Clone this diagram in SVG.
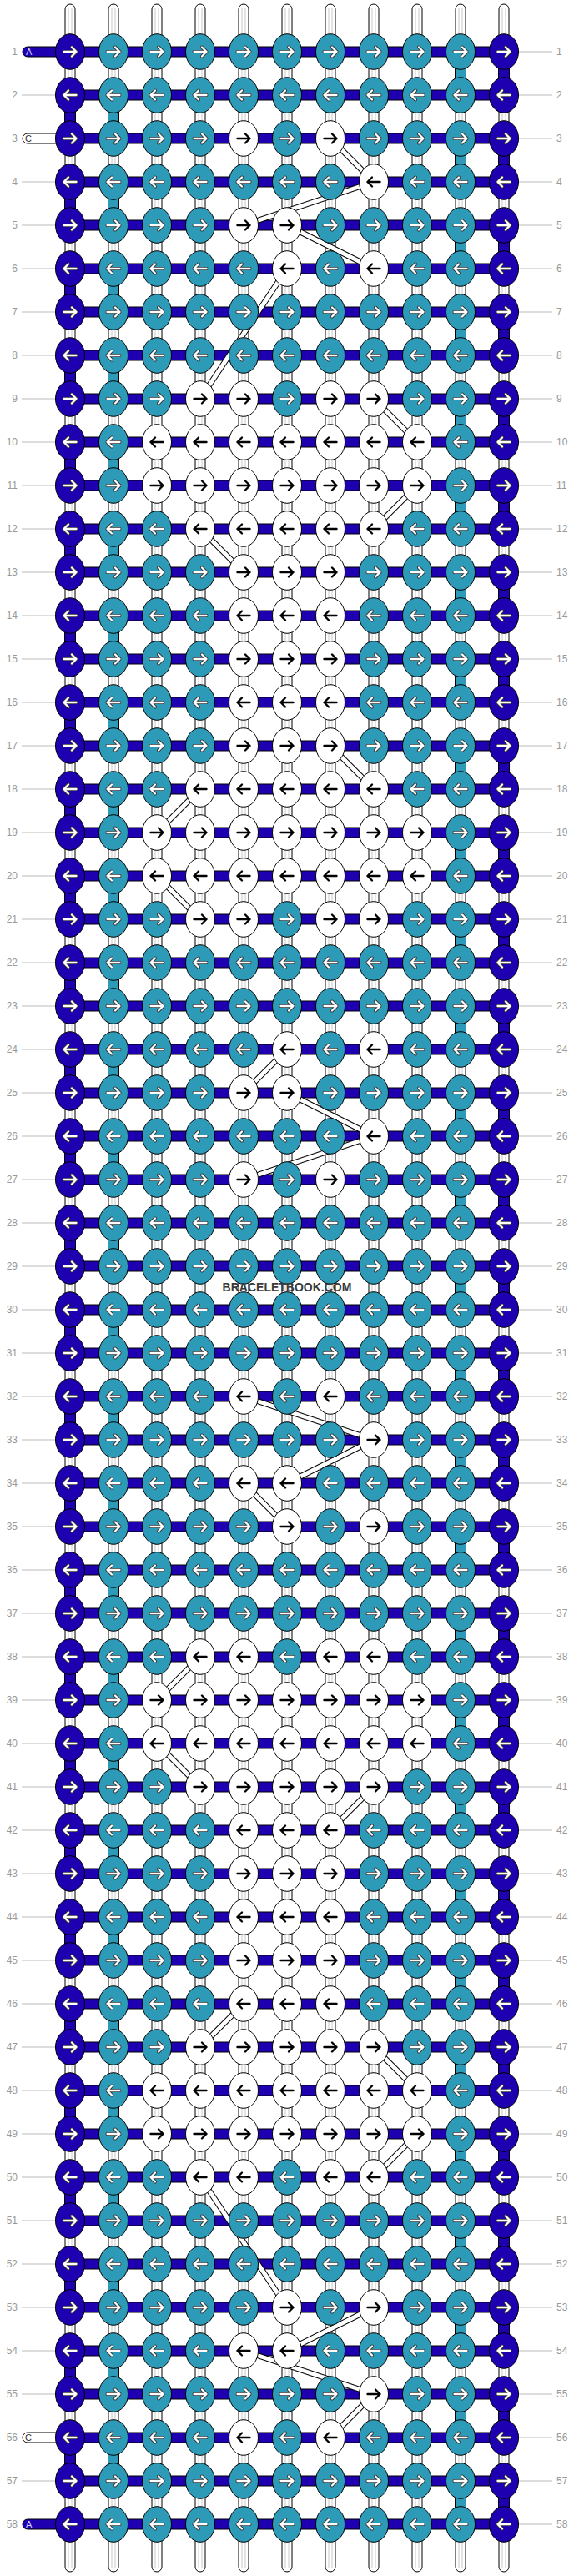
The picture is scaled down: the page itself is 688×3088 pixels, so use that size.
<svg xmlns="http://www.w3.org/2000/svg" xmlns:xlink="http://www.w3.org/1999/xlink" width="688" height="3088" viewBox="0 0 688 3088">
<style>
.base{fill:#fff;stroke:#000;stroke-width:1}
.gl{fill:none;stroke:#c8c8c8;stroke-width:1}
.bar{fill:#1e00b0;stroke:#000;stroke-width:1}
.t{fill:#2d9bb8;stroke:#000;stroke-width:1}
.w{fill:#fff;stroke:#000;stroke-width:1}
.b{fill:#1e00b0;stroke:#000;stroke-width:1}
.ao{fill:none;stroke:#333;stroke-width:4;stroke-linecap:round;stroke-linejoin:round}
.aw{fill:none;stroke:#fff;stroke-width:2.3;stroke-linecap:round;stroke-linejoin:round}
.ak{fill:none;stroke:#000;stroke-width:2.4;stroke-linecap:round;stroke-linejoin:round}
.lbl{font-family:"Liberation Sans",Arial,sans-serif;font-size:12px;fill:#999}
.tk{fill:none;stroke:#000;stroke-width:7}
.tw{fill:none;stroke:#fff;stroke-width:5}
</style>
<defs>
<path id="ar" d="M-7.5,0H7.5M2,-5.5L7.5,0L2,5.5"/>
<path id="al" d="M7.5,0H-7.5M-2,-5.5L-7.5,0L-2,5.5"/>
<g id="br"><ellipse class="b" rx="17.5" ry="21.3"/><use href="#ar" class="ao"/><use href="#ar" class="aw"/></g>
<g id="bl"><ellipse class="b" rx="17.5" ry="21.3"/><use href="#al" class="ao"/><use href="#al" class="aw"/></g>
<g id="tr"><ellipse class="t" rx="17.5" ry="21.3"/><use href="#ar" class="ao"/><use href="#ar" class="aw"/></g>
<g id="tl"><ellipse class="t" rx="17.5" ry="21.3"/><use href="#al" class="ao"/><use href="#al" class="aw"/></g>
<g id="wr"><ellipse class="w" rx="17.5" ry="21.3"/><use href="#ar" class="ak"/></g>
<g id="wl"><ellipse class="w" rx="17.5" ry="21.3"/><use href="#al" class="ak"/></g>
<rect id="hb" class="bar" x="84" y="-6" width="520" height="12"/>
</defs>
<rect width="688" height="3088" fill="#fff"/>
<g id="strands">
<rect class="base" x="78" y="5" width="12" height="3078" rx="6"/>
<rect class="base" x="130" y="5" width="12" height="3078" rx="6"/>
<rect class="base" x="182" y="5" width="12" height="3078" rx="6"/>
<rect class="base" x="234" y="5" width="12" height="3078" rx="6"/>
<rect class="base" x="286" y="5" width="12" height="3078" rx="6"/>
<rect class="base" x="338" y="5" width="12" height="3078" rx="6"/>
<rect class="base" x="390" y="5" width="12" height="3078" rx="6"/>
<rect class="base" x="442" y="5" width="12" height="3078" rx="6"/>
<rect class="base" x="494" y="5" width="12" height="3078" rx="6"/>
<rect class="base" x="546" y="5" width="12" height="3078" rx="6"/>
<rect class="base" x="598" y="5" width="12" height="3078" rx="6"/>
<path class="gl" d="M82,9V3079M86,9V3079M134,9V3079M138,9V3079M186,9V3079M190,9V3079M238,9V3079M242,9V3079M290,9V3079M294,9V3079M342,9V3079M346,9V3079M394,9V3079M398,9V3079M446,9V3079M450,9V3079M498,9V3079M502,9V3079M550,9V3079M554,9V3079M602,9V3079M606,9V3079"/>
</g>
<g id="bars">
<rect class="bar" x="27" y="56" width="62" height="12" rx="6"/>
<rect class="base" x="27" y="160" width="62" height="12" rx="6"/>
<rect class="base" x="27" y="2916" width="62" height="12" rx="6"/>
<rect class="bar" x="27" y="3020" width="62" height="12" rx="6"/>
<use href="#hb" y="62"/><use href="#hb" y="114"/><use href="#hb" y="166"/><use href="#hb" y="218"/><use href="#hb" y="270"/><use href="#hb" y="322"/><use href="#hb" y="374"/><use href="#hb" y="426"/><use href="#hb" y="478"/><use href="#hb" y="530"/>
<use href="#hb" y="582"/><use href="#hb" y="634"/><use href="#hb" y="686"/><use href="#hb" y="738"/><use href="#hb" y="790"/><use href="#hb" y="842"/><use href="#hb" y="894"/><use href="#hb" y="946"/><use href="#hb" y="998"/><use href="#hb" y="1050"/>
<use href="#hb" y="1102"/><use href="#hb" y="1154"/><use href="#hb" y="1206"/><use href="#hb" y="1258"/><use href="#hb" y="1310"/><use href="#hb" y="1362"/><use href="#hb" y="1414"/><use href="#hb" y="1466"/><use href="#hb" y="1518"/><use href="#hb" y="1570"/>
<use href="#hb" y="1622"/><use href="#hb" y="1674"/><use href="#hb" y="1726"/><use href="#hb" y="1778"/><use href="#hb" y="1830"/><use href="#hb" y="1882"/><use href="#hb" y="1934"/><use href="#hb" y="1986"/><use href="#hb" y="2038"/><use href="#hb" y="2090"/>
<use href="#hb" y="2142"/><use href="#hb" y="2194"/><use href="#hb" y="2246"/><use href="#hb" y="2298"/><use href="#hb" y="2350"/><use href="#hb" y="2402"/><use href="#hb" y="2454"/><use href="#hb" y="2506"/><use href="#hb" y="2558"/><use href="#hb" y="2610"/>
<use href="#hb" y="2662"/><use href="#hb" y="2714"/><use href="#hb" y="2766"/><use href="#hb" y="2818"/><use href="#hb" y="2870"/><use href="#hb" y="2922"/><use href="#hb" y="2974"/><use href="#hb" y="3026"/>
</g>
<g id="connectors">
<line x1="84" y1="132" x2="84" y2="2960" stroke="#000" stroke-width="14" stroke-dasharray="16 88"/>
<line x1="84" y1="132" x2="84" y2="2960" stroke="#1e00b0" stroke-width="12" stroke-dasharray="16 88"/>
<line x1="604" y1="80" x2="604" y2="3010" stroke="#000" stroke-width="14" stroke-dasharray="16 88"/>
<line x1="604" y1="80" x2="604" y2="3010" stroke="#1e00b0" stroke-width="12" stroke-dasharray="16 88"/>
<line x1="136" y1="132" x2="136" y2="2960" stroke="#000" stroke-width="14" stroke-dasharray="16 88"/>
<line x1="136" y1="132" x2="136" y2="2960" stroke="#2d9bb8" stroke-width="12" stroke-dasharray="16 88"/>
<line x1="552" y1="80" x2="552" y2="3010" stroke="#000" stroke-width="14" stroke-dasharray="16 88"/>
<line x1="552" y1="80" x2="552" y2="3010" stroke="#2d9bb8" stroke-width="12" stroke-dasharray="16 88"/>
<path class="tk" d="M396,166L448,218M448,218L292,270M344,270L448,322M344,322L240,478M448,478L500,530M500,582L448,634M240,634L292,686M396,894L448,946M240,946L188,998M188,1050L240,1102M344,1258L292,1310M344,1310L448,1362M448,1362L292,1414M292,1674L448,1726M448,1726L344,1778M292,1778L344,1830M240,1986L188,2038M188,2090L240,2142M448,2142L396,2194M292,2402L240,2454M448,2454L500,2506M500,2558L448,2610M240,2610L344,2766M448,2766L344,2818M292,2818L448,2870M448,2870L396,2922"/>
<path class="tw" d="M396,166L448,218M448,218L292,270M344,270L448,322M344,322L240,478M448,478L500,530M500,582L448,634M240,634L292,686M396,894L448,946M240,946L188,998M188,1050L240,1102M344,1258L292,1310M344,1310L448,1362M448,1362L292,1414M292,1674L448,1726M448,1726L344,1778M292,1778L344,1830M240,1986L188,2038M188,2090L240,2142M448,2142L396,2194M292,2402L240,2454M448,2454L500,2506M500,2558L448,2610M240,2610L344,2766M448,2766L344,2818M292,2818L448,2870M448,2870L396,2922"/>
</g>
<g id="labels">
<path fill="none" stroke="#bbb" stroke-width="1" d="M26,114H67M26,218H67M26,270H67M26,322H67M26,374H67M26,426H67M26,478H67M26,530H67M26,582H67M26,634H67M26,686H67M26,738H67M26,790H67M26,842H67M26,894H67M26,946H67M26,998H67M26,1050H67M26,1102H67M26,1154H67M26,1206H67M26,1258H67M26,1310H67M26,1362H67M26,1414H67M26,1466H67M26,1518H67M26,1570H67M26,1622H67M26,1674H67M26,1726H67M26,1778H67M26,1830H67M26,1882H67M26,1934H67M26,1986H67M26,2038H67M26,2090H67M26,2142H67M26,2194H67M26,2246H67M26,2298H67M26,2350H67M26,2402H67M26,2454H67M26,2506H67M26,2558H67M26,2610H67M26,2662H67M26,2714H67M26,2766H67M26,2818H67M26,2870H67M26,2974H67
M621,62H662M621,114H662M621,166H662M621,218H662M621,270H662M621,322H662M621,374H662M621,426H662M621,478H662M621,530H662M621,582H662M621,634H662M621,686H662M621,738H662M621,790H662M621,842H662M621,894H662M621,946H662M621,998H662M621,1050H662M621,1102H662M621,1154H662M621,1206H662M621,1258H662M621,1310H662M621,1362H662M621,1414H662M621,1466H662M621,1518H662M621,1570H662M621,1622H662M621,1674H662M621,1726H662M621,1778H662M621,1830H662M621,1882H662M621,1934H662M621,1986H662M621,2038H662M621,2090H662M621,2142H662M621,2194H662M621,2246H662M621,2298H662M621,2350H662M621,2402H662M621,2454H662M621,2506H662M621,2558H662M621,2610H662M621,2662H662M621,2714H662M621,2766H662M621,2818H662M621,2870H662M621,2922H662M621,2974H662M621,3026H662"/>
<text x="31" y="66" font-family="Liberation Sans,Arial,sans-serif" font-size="11" fill="#d0d0ff">A</text>
<text x="30" y="170" font-family="Liberation Sans,Arial,sans-serif" font-size="11" fill="#333">C</text>
<text x="30" y="2926" font-family="Liberation Sans,Arial,sans-serif" font-size="11" fill="#333">C</text>
<text x="31" y="3030" font-family="Liberation Sans,Arial,sans-serif" font-size="11" fill="#d0d0ff">A</text>
<g class="lbl" text-anchor="end">
<text x="21" y="66">1</text><text x="21" y="118">2</text><text x="21" y="170">3</text><text x="21" y="222">4</text><text x="21" y="274">5</text><text x="21" y="326">6</text><text x="21" y="378">7</text><text x="21" y="430">8</text><text x="21" y="482">9</text><text x="21" y="534">10</text>
<text x="21" y="586">11</text><text x="21" y="638">12</text><text x="21" y="690">13</text><text x="21" y="742">14</text><text x="21" y="794">15</text><text x="21" y="846">16</text><text x="21" y="898">17</text><text x="21" y="950">18</text><text x="21" y="1002">19</text><text x="21" y="1054">20</text>
<text x="21" y="1106">21</text><text x="21" y="1158">22</text><text x="21" y="1210">23</text><text x="21" y="1262">24</text><text x="21" y="1314">25</text><text x="21" y="1366">26</text><text x="21" y="1418">27</text><text x="21" y="1470">28</text><text x="21" y="1522">29</text><text x="21" y="1574">30</text>
<text x="21" y="1626">31</text><text x="21" y="1678">32</text><text x="21" y="1730">33</text><text x="21" y="1782">34</text><text x="21" y="1834">35</text><text x="21" y="1886">36</text><text x="21" y="1938">37</text><text x="21" y="1990">38</text><text x="21" y="2042">39</text><text x="21" y="2094">40</text>
<text x="21" y="2146">41</text><text x="21" y="2198">42</text><text x="21" y="2250">43</text><text x="21" y="2302">44</text><text x="21" y="2354">45</text><text x="21" y="2406">46</text><text x="21" y="2458">47</text><text x="21" y="2510">48</text><text x="21" y="2562">49</text><text x="21" y="2614">50</text>
<text x="21" y="2666">51</text><text x="21" y="2718">52</text><text x="21" y="2770">53</text><text x="21" y="2822">54</text><text x="21" y="2874">55</text><text x="21" y="2926">56</text><text x="21" y="2978">57</text><text x="21" y="3030">58</text>
</g>
<g class="lbl">
<text x="667" y="66">1</text><text x="667" y="118">2</text><text x="667" y="170">3</text><text x="667" y="222">4</text><text x="667" y="274">5</text><text x="667" y="326">6</text><text x="667" y="378">7</text><text x="667" y="430">8</text><text x="667" y="482">9</text><text x="667" y="534">10</text>
<text x="667" y="586">11</text><text x="667" y="638">12</text><text x="667" y="690">13</text><text x="667" y="742">14</text><text x="667" y="794">15</text><text x="667" y="846">16</text><text x="667" y="898">17</text><text x="667" y="950">18</text><text x="667" y="1002">19</text><text x="667" y="1054">20</text>
<text x="667" y="1106">21</text><text x="667" y="1158">22</text><text x="667" y="1210">23</text><text x="667" y="1262">24</text><text x="667" y="1314">25</text><text x="667" y="1366">26</text><text x="667" y="1418">27</text><text x="667" y="1470">28</text><text x="667" y="1522">29</text><text x="667" y="1574">30</text>
<text x="667" y="1626">31</text><text x="667" y="1678">32</text><text x="667" y="1730">33</text><text x="667" y="1782">34</text><text x="667" y="1834">35</text><text x="667" y="1886">36</text><text x="667" y="1938">37</text><text x="667" y="1990">38</text><text x="667" y="2042">39</text><text x="667" y="2094">40</text>
<text x="667" y="2146">41</text><text x="667" y="2198">42</text><text x="667" y="2250">43</text><text x="667" y="2302">44</text><text x="667" y="2354">45</text><text x="667" y="2406">46</text><text x="667" y="2458">47</text><text x="667" y="2510">48</text><text x="667" y="2562">49</text><text x="667" y="2614">50</text>
<text x="667" y="2666">51</text><text x="667" y="2718">52</text><text x="667" y="2770">53</text><text x="667" y="2822">54</text><text x="667" y="2874">55</text><text x="667" y="2926">56</text><text x="667" y="2978">57</text><text x="667" y="3030">58</text>
</g>
</g>
<g id="nodes">
<g id="row1" transform="translate(0,62)"><g id="n1-0"><use href="#br" x="84"/></g><g id="n1-1"><use href="#tr" x="136"/></g><g id="n1-2"><use href="#tr" x="188"/></g><g id="n1-3"><use href="#tr" x="240"/></g><g id="n1-4"><use href="#tr" x="292"/></g><g id="n1-5"><use href="#tr" x="344"/></g><g id="n1-6"><use href="#tr" x="396"/></g><g id="n1-7"><use href="#tr" x="448"/></g><g id="n1-8"><use href="#tr" x="500"/></g><g id="n1-9"><use href="#tr" x="552"/></g><g id="n1-10"><use href="#br" x="604"/></g></g>
<g id="row2" transform="translate(0,114)"><g id="n2-0"><use href="#bl" x="84"/></g><g id="n2-1"><use href="#tl" x="136"/></g><g id="n2-2"><use href="#tl" x="188"/></g><g id="n2-3"><use href="#tl" x="240"/></g><g id="n2-4"><use href="#tl" x="292"/></g><g id="n2-5"><use href="#tl" x="344"/></g><g id="n2-6"><use href="#tl" x="396"/></g><g id="n2-7"><use href="#tl" x="448"/></g><g id="n2-8"><use href="#tl" x="500"/></g><g id="n2-9"><use href="#tl" x="552"/></g><g id="n2-10"><use href="#bl" x="604"/></g></g>
<g id="row3" transform="translate(0,166)"><g id="n3-0"><use href="#br" x="84"/></g><g id="n3-1"><use href="#tr" x="136"/></g><g id="n3-2"><use href="#tr" x="188"/></g><g id="n3-3"><use href="#tr" x="240"/></g><g id="n3-4"><use href="#wr" x="292"/></g><g id="n3-5"><use href="#tr" x="344"/></g><g id="n3-6"><use href="#wr" x="396"/></g><g id="n3-7"><use href="#tr" x="448"/></g><g id="n3-8"><use href="#tr" x="500"/></g><g id="n3-9"><use href="#tr" x="552"/></g><g id="n3-10"><use href="#br" x="604"/></g></g>
<g id="row4" transform="translate(0,218)"><g id="n4-0"><use href="#bl" x="84"/></g><g id="n4-1"><use href="#tl" x="136"/></g><g id="n4-2"><use href="#tl" x="188"/></g><g id="n4-3"><use href="#tl" x="240"/></g><g id="n4-4"><use href="#tl" x="292"/></g><g id="n4-5"><use href="#tl" x="344"/></g><g id="n4-6"><use href="#tl" x="396"/></g><g id="n4-7"><use href="#wl" x="448"/></g><g id="n4-8"><use href="#tl" x="500"/></g><g id="n4-9"><use href="#tl" x="552"/></g><g id="n4-10"><use href="#bl" x="604"/></g></g>
<g id="row5" transform="translate(0,270)"><g id="n5-0"><use href="#br" x="84"/></g><g id="n5-1"><use href="#tr" x="136"/></g><g id="n5-2"><use href="#tr" x="188"/></g><g id="n5-3"><use href="#tr" x="240"/></g><g id="n5-4"><use href="#wr" x="292"/></g><g id="n5-5"><use href="#wr" x="344"/></g><g id="n5-6"><use href="#tr" x="396"/></g><g id="n5-7"><use href="#tr" x="448"/></g><g id="n5-8"><use href="#tr" x="500"/></g><g id="n5-9"><use href="#tr" x="552"/></g><g id="n5-10"><use href="#br" x="604"/></g></g>
<g id="row6" transform="translate(0,322)"><g id="n6-0"><use href="#bl" x="84"/></g><g id="n6-1"><use href="#tl" x="136"/></g><g id="n6-2"><use href="#tl" x="188"/></g><g id="n6-3"><use href="#tl" x="240"/></g><g id="n6-4"><use href="#tl" x="292"/></g><g id="n6-5"><use href="#wl" x="344"/></g><g id="n6-6"><use href="#tl" x="396"/></g><g id="n6-7"><use href="#wl" x="448"/></g><g id="n6-8"><use href="#tl" x="500"/></g><g id="n6-9"><use href="#tl" x="552"/></g><g id="n6-10"><use href="#bl" x="604"/></g></g>
<g id="row7" transform="translate(0,374)"><g id="n7-0"><use href="#br" x="84"/></g><g id="n7-1"><use href="#tr" x="136"/></g><g id="n7-2"><use href="#tr" x="188"/></g><g id="n7-3"><use href="#tr" x="240"/></g><g id="n7-4"><use href="#tr" x="292"/></g><g id="n7-5"><use href="#tr" x="344"/></g><g id="n7-6"><use href="#tr" x="396"/></g><g id="n7-7"><use href="#tr" x="448"/></g><g id="n7-8"><use href="#tr" x="500"/></g><g id="n7-9"><use href="#tr" x="552"/></g><g id="n7-10"><use href="#br" x="604"/></g></g>
<g id="row8" transform="translate(0,426)"><g id="n8-0"><use href="#bl" x="84"/></g><g id="n8-1"><use href="#tl" x="136"/></g><g id="n8-2"><use href="#tl" x="188"/></g><g id="n8-3"><use href="#tl" x="240"/></g><g id="n8-4"><use href="#tl" x="292"/></g><g id="n8-5"><use href="#tl" x="344"/></g><g id="n8-6"><use href="#tl" x="396"/></g><g id="n8-7"><use href="#tl" x="448"/></g><g id="n8-8"><use href="#tl" x="500"/></g><g id="n8-9"><use href="#tl" x="552"/></g><g id="n8-10"><use href="#bl" x="604"/></g></g>
<g id="row9" transform="translate(0,478)"><g id="n9-0"><use href="#br" x="84"/></g><g id="n9-1"><use href="#tr" x="136"/></g><g id="n9-2"><use href="#tr" x="188"/></g><g id="n9-3"><use href="#wr" x="240"/></g><g id="n9-4"><use href="#wr" x="292"/></g><g id="n9-5"><use href="#tr" x="344"/></g><g id="n9-6"><use href="#wr" x="396"/></g><g id="n9-7"><use href="#wr" x="448"/></g><g id="n9-8"><use href="#tr" x="500"/></g><g id="n9-9"><use href="#tr" x="552"/></g><g id="n9-10"><use href="#br" x="604"/></g></g>
<g id="row10" transform="translate(0,530)"><g id="n10-0"><use href="#bl" x="84"/></g><g id="n10-1"><use href="#tl" x="136"/></g><g id="n10-2"><use href="#wl" x="188"/></g><g id="n10-3"><use href="#wl" x="240"/></g><g id="n10-4"><use href="#wl" x="292"/></g><g id="n10-5"><use href="#wl" x="344"/></g><g id="n10-6"><use href="#wl" x="396"/></g><g id="n10-7"><use href="#wl" x="448"/></g><g id="n10-8"><use href="#wl" x="500"/></g><g id="n10-9"><use href="#tl" x="552"/></g><g id="n10-10"><use href="#bl" x="604"/></g></g>
<g id="row11" transform="translate(0,582)"><g id="n11-0"><use href="#br" x="84"/></g><g id="n11-1"><use href="#tr" x="136"/></g><g id="n11-2"><use href="#wr" x="188"/></g><g id="n11-3"><use href="#wr" x="240"/></g><g id="n11-4"><use href="#wr" x="292"/></g><g id="n11-5"><use href="#wr" x="344"/></g><g id="n11-6"><use href="#wr" x="396"/></g><g id="n11-7"><use href="#wr" x="448"/></g><g id="n11-8"><use href="#wr" x="500"/></g><g id="n11-9"><use href="#tr" x="552"/></g><g id="n11-10"><use href="#br" x="604"/></g></g>
<g id="row12" transform="translate(0,634)"><g id="n12-0"><use href="#bl" x="84"/></g><g id="n12-1"><use href="#tl" x="136"/></g><g id="n12-2"><use href="#tl" x="188"/></g><g id="n12-3"><use href="#wl" x="240"/></g><g id="n12-4"><use href="#wl" x="292"/></g><g id="n12-5"><use href="#wl" x="344"/></g><g id="n12-6"><use href="#wl" x="396"/></g><g id="n12-7"><use href="#wl" x="448"/></g><g id="n12-8"><use href="#tl" x="500"/></g><g id="n12-9"><use href="#tl" x="552"/></g><g id="n12-10"><use href="#bl" x="604"/></g></g>
<g id="row13" transform="translate(0,686)"><g id="n13-0"><use href="#br" x="84"/></g><g id="n13-1"><use href="#tr" x="136"/></g><g id="n13-2"><use href="#tr" x="188"/></g><g id="n13-3"><use href="#tr" x="240"/></g><g id="n13-4"><use href="#wr" x="292"/></g><g id="n13-5"><use href="#wr" x="344"/></g><g id="n13-6"><use href="#wr" x="396"/></g><g id="n13-7"><use href="#tr" x="448"/></g><g id="n13-8"><use href="#tr" x="500"/></g><g id="n13-9"><use href="#tr" x="552"/></g><g id="n13-10"><use href="#br" x="604"/></g></g>
<g id="row14" transform="translate(0,738)"><g id="n14-0"><use href="#bl" x="84"/></g><g id="n14-1"><use href="#tl" x="136"/></g><g id="n14-2"><use href="#tl" x="188"/></g><g id="n14-3"><use href="#tl" x="240"/></g><g id="n14-4"><use href="#wl" x="292"/></g><g id="n14-5"><use href="#wl" x="344"/></g><g id="n14-6"><use href="#wl" x="396"/></g><g id="n14-7"><use href="#tl" x="448"/></g><g id="n14-8"><use href="#tl" x="500"/></g><g id="n14-9"><use href="#tl" x="552"/></g><g id="n14-10"><use href="#bl" x="604"/></g></g>
<g id="row15" transform="translate(0,790)"><g id="n15-0"><use href="#br" x="84"/></g><g id="n15-1"><use href="#tr" x="136"/></g><g id="n15-2"><use href="#tr" x="188"/></g><g id="n15-3"><use href="#tr" x="240"/></g><g id="n15-4"><use href="#wr" x="292"/></g><g id="n15-5"><use href="#wr" x="344"/></g><g id="n15-6"><use href="#wr" x="396"/></g><g id="n15-7"><use href="#tr" x="448"/></g><g id="n15-8"><use href="#tr" x="500"/></g><g id="n15-9"><use href="#tr" x="552"/></g><g id="n15-10"><use href="#br" x="604"/></g></g>
<g id="row16" transform="translate(0,842)"><g id="n16-0"><use href="#bl" x="84"/></g><g id="n16-1"><use href="#tl" x="136"/></g><g id="n16-2"><use href="#tl" x="188"/></g><g id="n16-3"><use href="#tl" x="240"/></g><g id="n16-4"><use href="#wl" x="292"/></g><g id="n16-5"><use href="#wl" x="344"/></g><g id="n16-6"><use href="#wl" x="396"/></g><g id="n16-7"><use href="#tl" x="448"/></g><g id="n16-8"><use href="#tl" x="500"/></g><g id="n16-9"><use href="#tl" x="552"/></g><g id="n16-10"><use href="#bl" x="604"/></g></g>
<g id="row17" transform="translate(0,894)"><g id="n17-0"><use href="#br" x="84"/></g><g id="n17-1"><use href="#tr" x="136"/></g><g id="n17-2"><use href="#tr" x="188"/></g><g id="n17-3"><use href="#tr" x="240"/></g><g id="n17-4"><use href="#wr" x="292"/></g><g id="n17-5"><use href="#wr" x="344"/></g><g id="n17-6"><use href="#wr" x="396"/></g><g id="n17-7"><use href="#tr" x="448"/></g><g id="n17-8"><use href="#tr" x="500"/></g><g id="n17-9"><use href="#tr" x="552"/></g><g id="n17-10"><use href="#br" x="604"/></g></g>
<g id="row18" transform="translate(0,946)"><g id="n18-0"><use href="#bl" x="84"/></g><g id="n18-1"><use href="#tl" x="136"/></g><g id="n18-2"><use href="#tl" x="188"/></g><g id="n18-3"><use href="#wl" x="240"/></g><g id="n18-4"><use href="#wl" x="292"/></g><g id="n18-5"><use href="#wl" x="344"/></g><g id="n18-6"><use href="#wl" x="396"/></g><g id="n18-7"><use href="#wl" x="448"/></g><g id="n18-8"><use href="#tl" x="500"/></g><g id="n18-9"><use href="#tl" x="552"/></g><g id="n18-10"><use href="#bl" x="604"/></g></g>
<g id="row19" transform="translate(0,998)"><g id="n19-0"><use href="#br" x="84"/></g><g id="n19-1"><use href="#tr" x="136"/></g><g id="n19-2"><use href="#wr" x="188"/></g><g id="n19-3"><use href="#wr" x="240"/></g><g id="n19-4"><use href="#wr" x="292"/></g><g id="n19-5"><use href="#wr" x="344"/></g><g id="n19-6"><use href="#wr" x="396"/></g><g id="n19-7"><use href="#wr" x="448"/></g><g id="n19-8"><use href="#wr" x="500"/></g><g id="n19-9"><use href="#tr" x="552"/></g><g id="n19-10"><use href="#br" x="604"/></g></g>
<g id="row20" transform="translate(0,1050)"><g id="n20-0"><use href="#bl" x="84"/></g><g id="n20-1"><use href="#tl" x="136"/></g><g id="n20-2"><use href="#wl" x="188"/></g><g id="n20-3"><use href="#wl" x="240"/></g><g id="n20-4"><use href="#wl" x="292"/></g><g id="n20-5"><use href="#wl" x="344"/></g><g id="n20-6"><use href="#wl" x="396"/></g><g id="n20-7"><use href="#wl" x="448"/></g><g id="n20-8"><use href="#wl" x="500"/></g><g id="n20-9"><use href="#tl" x="552"/></g><g id="n20-10"><use href="#bl" x="604"/></g></g>
<g id="row21" transform="translate(0,1102)"><g id="n21-0"><use href="#br" x="84"/></g><g id="n21-1"><use href="#tr" x="136"/></g><g id="n21-2"><use href="#tr" x="188"/></g><g id="n21-3"><use href="#wr" x="240"/></g><g id="n21-4"><use href="#wr" x="292"/></g><g id="n21-5"><use href="#tr" x="344"/></g><g id="n21-6"><use href="#wr" x="396"/></g><g id="n21-7"><use href="#wr" x="448"/></g><g id="n21-8"><use href="#tr" x="500"/></g><g id="n21-9"><use href="#tr" x="552"/></g><g id="n21-10"><use href="#br" x="604"/></g></g>
<g id="row22" transform="translate(0,1154)"><g id="n22-0"><use href="#bl" x="84"/></g><g id="n22-1"><use href="#tl" x="136"/></g><g id="n22-2"><use href="#tl" x="188"/></g><g id="n22-3"><use href="#tl" x="240"/></g><g id="n22-4"><use href="#tl" x="292"/></g><g id="n22-5"><use href="#tl" x="344"/></g><g id="n22-6"><use href="#tl" x="396"/></g><g id="n22-7"><use href="#tl" x="448"/></g><g id="n22-8"><use href="#tl" x="500"/></g><g id="n22-9"><use href="#tl" x="552"/></g><g id="n22-10"><use href="#bl" x="604"/></g></g>
<g id="row23" transform="translate(0,1206)"><g id="n23-0"><use href="#br" x="84"/></g><g id="n23-1"><use href="#tr" x="136"/></g><g id="n23-2"><use href="#tr" x="188"/></g><g id="n23-3"><use href="#tr" x="240"/></g><g id="n23-4"><use href="#tr" x="292"/></g><g id="n23-5"><use href="#tr" x="344"/></g><g id="n23-6"><use href="#tr" x="396"/></g><g id="n23-7"><use href="#tr" x="448"/></g><g id="n23-8"><use href="#tr" x="500"/></g><g id="n23-9"><use href="#tr" x="552"/></g><g id="n23-10"><use href="#br" x="604"/></g></g>
<g id="row24" transform="translate(0,1258)"><g id="n24-0"><use href="#bl" x="84"/></g><g id="n24-1"><use href="#tl" x="136"/></g><g id="n24-2"><use href="#tl" x="188"/></g><g id="n24-3"><use href="#tl" x="240"/></g><g id="n24-4"><use href="#tl" x="292"/></g><g id="n24-5"><use href="#wl" x="344"/></g><g id="n24-6"><use href="#tl" x="396"/></g><g id="n24-7"><use href="#wl" x="448"/></g><g id="n24-8"><use href="#tl" x="500"/></g><g id="n24-9"><use href="#tl" x="552"/></g><g id="n24-10"><use href="#bl" x="604"/></g></g>
<g id="row25" transform="translate(0,1310)"><g id="n25-0"><use href="#br" x="84"/></g><g id="n25-1"><use href="#tr" x="136"/></g><g id="n25-2"><use href="#tr" x="188"/></g><g id="n25-3"><use href="#tr" x="240"/></g><g id="n25-4"><use href="#wr" x="292"/></g><g id="n25-5"><use href="#wr" x="344"/></g><g id="n25-6"><use href="#tr" x="396"/></g><g id="n25-7"><use href="#tr" x="448"/></g><g id="n25-8"><use href="#tr" x="500"/></g><g id="n25-9"><use href="#tr" x="552"/></g><g id="n25-10"><use href="#br" x="604"/></g></g>
<g id="row26" transform="translate(0,1362)"><g id="n26-0"><use href="#bl" x="84"/></g><g id="n26-1"><use href="#tl" x="136"/></g><g id="n26-2"><use href="#tl" x="188"/></g><g id="n26-3"><use href="#tl" x="240"/></g><g id="n26-4"><use href="#tl" x="292"/></g><g id="n26-5"><use href="#tl" x="344"/></g><g id="n26-6"><use href="#tl" x="396"/></g><g id="n26-7"><use href="#wl" x="448"/></g><g id="n26-8"><use href="#tl" x="500"/></g><g id="n26-9"><use href="#tl" x="552"/></g><g id="n26-10"><use href="#bl" x="604"/></g></g>
<g id="row27" transform="translate(0,1414)"><g id="n27-0"><use href="#br" x="84"/></g><g id="n27-1"><use href="#tr" x="136"/></g><g id="n27-2"><use href="#tr" x="188"/></g><g id="n27-3"><use href="#tr" x="240"/></g><g id="n27-4"><use href="#wr" x="292"/></g><g id="n27-5"><use href="#tr" x="344"/></g><g id="n27-6"><use href="#wr" x="396"/></g><g id="n27-7"><use href="#tr" x="448"/></g><g id="n27-8"><use href="#tr" x="500"/></g><g id="n27-9"><use href="#tr" x="552"/></g><g id="n27-10"><use href="#br" x="604"/></g></g>
<g id="row28" transform="translate(0,1466)"><g id="n28-0"><use href="#bl" x="84"/></g><g id="n28-1"><use href="#tl" x="136"/></g><g id="n28-2"><use href="#tl" x="188"/></g><g id="n28-3"><use href="#tl" x="240"/></g><g id="n28-4"><use href="#tl" x="292"/></g><g id="n28-5"><use href="#tl" x="344"/></g><g id="n28-6"><use href="#tl" x="396"/></g><g id="n28-7"><use href="#tl" x="448"/></g><g id="n28-8"><use href="#tl" x="500"/></g><g id="n28-9"><use href="#tl" x="552"/></g><g id="n28-10"><use href="#bl" x="604"/></g></g>
<g id="row29" transform="translate(0,1518)"><g id="n29-0"><use href="#br" x="84"/></g><g id="n29-1"><use href="#tr" x="136"/></g><g id="n29-2"><use href="#tr" x="188"/></g><g id="n29-3"><use href="#tr" x="240"/></g><g id="n29-4"><use href="#tr" x="292"/></g><g id="n29-5"><use href="#tr" x="344"/></g><g id="n29-6"><use href="#tr" x="396"/></g><g id="n29-7"><use href="#tr" x="448"/></g><g id="n29-8"><use href="#tr" x="500"/></g><g id="n29-9"><use href="#tr" x="552"/></g><g id="n29-10"><use href="#br" x="604"/></g></g>
<g id="row30" transform="translate(0,1570)"><g id="n30-0"><use href="#bl" x="84"/></g><g id="n30-1"><use href="#tl" x="136"/></g><g id="n30-2"><use href="#tl" x="188"/></g><g id="n30-3"><use href="#tl" x="240"/></g><g id="n30-4"><use href="#tl" x="292"/></g><g id="n30-5"><use href="#tl" x="344"/></g><g id="n30-6"><use href="#tl" x="396"/></g><g id="n30-7"><use href="#tl" x="448"/></g><g id="n30-8"><use href="#tl" x="500"/></g><g id="n30-9"><use href="#tl" x="552"/></g><g id="n30-10"><use href="#bl" x="604"/></g></g>
<g id="row31" transform="translate(0,1622)"><g id="n31-0"><use href="#br" x="84"/></g><g id="n31-1"><use href="#tr" x="136"/></g><g id="n31-2"><use href="#tr" x="188"/></g><g id="n31-3"><use href="#tr" x="240"/></g><g id="n31-4"><use href="#tr" x="292"/></g><g id="n31-5"><use href="#tr" x="344"/></g><g id="n31-6"><use href="#tr" x="396"/></g><g id="n31-7"><use href="#tr" x="448"/></g><g id="n31-8"><use href="#tr" x="500"/></g><g id="n31-9"><use href="#tr" x="552"/></g><g id="n31-10"><use href="#br" x="604"/></g></g>
<g id="row32" transform="translate(0,1674)"><g id="n32-0"><use href="#bl" x="84"/></g><g id="n32-1"><use href="#tl" x="136"/></g><g id="n32-2"><use href="#tl" x="188"/></g><g id="n32-3"><use href="#tl" x="240"/></g><g id="n32-4"><use href="#wl" x="292"/></g><g id="n32-5"><use href="#tl" x="344"/></g><g id="n32-6"><use href="#wl" x="396"/></g><g id="n32-7"><use href="#tl" x="448"/></g><g id="n32-8"><use href="#tl" x="500"/></g><g id="n32-9"><use href="#tl" x="552"/></g><g id="n32-10"><use href="#bl" x="604"/></g></g>
<g id="row33" transform="translate(0,1726)"><g id="n33-0"><use href="#br" x="84"/></g><g id="n33-1"><use href="#tr" x="136"/></g><g id="n33-2"><use href="#tr" x="188"/></g><g id="n33-3"><use href="#tr" x="240"/></g><g id="n33-4"><use href="#tr" x="292"/></g><g id="n33-5"><use href="#tr" x="344"/></g><g id="n33-6"><use href="#tr" x="396"/></g><g id="n33-7"><use href="#wr" x="448"/></g><g id="n33-8"><use href="#tr" x="500"/></g><g id="n33-9"><use href="#tr" x="552"/></g><g id="n33-10"><use href="#br" x="604"/></g></g>
<g id="row34" transform="translate(0,1778)"><g id="n34-0"><use href="#bl" x="84"/></g><g id="n34-1"><use href="#tl" x="136"/></g><g id="n34-2"><use href="#tl" x="188"/></g><g id="n34-3"><use href="#tl" x="240"/></g><g id="n34-4"><use href="#wl" x="292"/></g><g id="n34-5"><use href="#wl" x="344"/></g><g id="n34-6"><use href="#tl" x="396"/></g><g id="n34-7"><use href="#tl" x="448"/></g><g id="n34-8"><use href="#tl" x="500"/></g><g id="n34-9"><use href="#tl" x="552"/></g><g id="n34-10"><use href="#bl" x="604"/></g></g>
<g id="row35" transform="translate(0,1830)"><g id="n35-0"><use href="#br" x="84"/></g><g id="n35-1"><use href="#tr" x="136"/></g><g id="n35-2"><use href="#tr" x="188"/></g><g id="n35-3"><use href="#tr" x="240"/></g><g id="n35-4"><use href="#tr" x="292"/></g><g id="n35-5"><use href="#wr" x="344"/></g><g id="n35-6"><use href="#tr" x="396"/></g><g id="n35-7"><use href="#wr" x="448"/></g><g id="n35-8"><use href="#tr" x="500"/></g><g id="n35-9"><use href="#tr" x="552"/></g><g id="n35-10"><use href="#br" x="604"/></g></g>
<g id="row36" transform="translate(0,1882)"><g id="n36-0"><use href="#bl" x="84"/></g><g id="n36-1"><use href="#tl" x="136"/></g><g id="n36-2"><use href="#tl" x="188"/></g><g id="n36-3"><use href="#tl" x="240"/></g><g id="n36-4"><use href="#tl" x="292"/></g><g id="n36-5"><use href="#tl" x="344"/></g><g id="n36-6"><use href="#tl" x="396"/></g><g id="n36-7"><use href="#tl" x="448"/></g><g id="n36-8"><use href="#tl" x="500"/></g><g id="n36-9"><use href="#tl" x="552"/></g><g id="n36-10"><use href="#bl" x="604"/></g></g>
<g id="row37" transform="translate(0,1934)"><g id="n37-0"><use href="#br" x="84"/></g><g id="n37-1"><use href="#tr" x="136"/></g><g id="n37-2"><use href="#tr" x="188"/></g><g id="n37-3"><use href="#tr" x="240"/></g><g id="n37-4"><use href="#tr" x="292"/></g><g id="n37-5"><use href="#tr" x="344"/></g><g id="n37-6"><use href="#tr" x="396"/></g><g id="n37-7"><use href="#tr" x="448"/></g><g id="n37-8"><use href="#tr" x="500"/></g><g id="n37-9"><use href="#tr" x="552"/></g><g id="n37-10"><use href="#br" x="604"/></g></g>
<g id="row38" transform="translate(0,1986)"><g id="n38-0"><use href="#bl" x="84"/></g><g id="n38-1"><use href="#tl" x="136"/></g><g id="n38-2"><use href="#tl" x="188"/></g><g id="n38-3"><use href="#wl" x="240"/></g><g id="n38-4"><use href="#wl" x="292"/></g><g id="n38-5"><use href="#tl" x="344"/></g><g id="n38-6"><use href="#wl" x="396"/></g><g id="n38-7"><use href="#wl" x="448"/></g><g id="n38-8"><use href="#tl" x="500"/></g><g id="n38-9"><use href="#tl" x="552"/></g><g id="n38-10"><use href="#bl" x="604"/></g></g>
<g id="row39" transform="translate(0,2038)"><g id="n39-0"><use href="#br" x="84"/></g><g id="n39-1"><use href="#tr" x="136"/></g><g id="n39-2"><use href="#wr" x="188"/></g><g id="n39-3"><use href="#wr" x="240"/></g><g id="n39-4"><use href="#wr" x="292"/></g><g id="n39-5"><use href="#wr" x="344"/></g><g id="n39-6"><use href="#wr" x="396"/></g><g id="n39-7"><use href="#wr" x="448"/></g><g id="n39-8"><use href="#wr" x="500"/></g><g id="n39-9"><use href="#tr" x="552"/></g><g id="n39-10"><use href="#br" x="604"/></g></g>
<g id="row40" transform="translate(0,2090)"><g id="n40-0"><use href="#bl" x="84"/></g><g id="n40-1"><use href="#tl" x="136"/></g><g id="n40-2"><use href="#wl" x="188"/></g><g id="n40-3"><use href="#wl" x="240"/></g><g id="n40-4"><use href="#wl" x="292"/></g><g id="n40-5"><use href="#wl" x="344"/></g><g id="n40-6"><use href="#wl" x="396"/></g><g id="n40-7"><use href="#wl" x="448"/></g><g id="n40-8"><use href="#wl" x="500"/></g><g id="n40-9"><use href="#tl" x="552"/></g><g id="n40-10"><use href="#bl" x="604"/></g></g>
<g id="row41" transform="translate(0,2142)"><g id="n41-0"><use href="#br" x="84"/></g><g id="n41-1"><use href="#tr" x="136"/></g><g id="n41-2"><use href="#tr" x="188"/></g><g id="n41-3"><use href="#wr" x="240"/></g><g id="n41-4"><use href="#wr" x="292"/></g><g id="n41-5"><use href="#wr" x="344"/></g><g id="n41-6"><use href="#wr" x="396"/></g><g id="n41-7"><use href="#wr" x="448"/></g><g id="n41-8"><use href="#tr" x="500"/></g><g id="n41-9"><use href="#tr" x="552"/></g><g id="n41-10"><use href="#br" x="604"/></g></g>
<g id="row42" transform="translate(0,2194)"><g id="n42-0"><use href="#bl" x="84"/></g><g id="n42-1"><use href="#tl" x="136"/></g><g id="n42-2"><use href="#tl" x="188"/></g><g id="n42-3"><use href="#tl" x="240"/></g><g id="n42-4"><use href="#wl" x="292"/></g><g id="n42-5"><use href="#wl" x="344"/></g><g id="n42-6"><use href="#wl" x="396"/></g><g id="n42-7"><use href="#tl" x="448"/></g><g id="n42-8"><use href="#tl" x="500"/></g><g id="n42-9"><use href="#tl" x="552"/></g><g id="n42-10"><use href="#bl" x="604"/></g></g>
<g id="row43" transform="translate(0,2246)"><g id="n43-0"><use href="#br" x="84"/></g><g id="n43-1"><use href="#tr" x="136"/></g><g id="n43-2"><use href="#tr" x="188"/></g><g id="n43-3"><use href="#tr" x="240"/></g><g id="n43-4"><use href="#wr" x="292"/></g><g id="n43-5"><use href="#wr" x="344"/></g><g id="n43-6"><use href="#wr" x="396"/></g><g id="n43-7"><use href="#tr" x="448"/></g><g id="n43-8"><use href="#tr" x="500"/></g><g id="n43-9"><use href="#tr" x="552"/></g><g id="n43-10"><use href="#br" x="604"/></g></g>
<g id="row44" transform="translate(0,2298)"><g id="n44-0"><use href="#bl" x="84"/></g><g id="n44-1"><use href="#tl" x="136"/></g><g id="n44-2"><use href="#tl" x="188"/></g><g id="n44-3"><use href="#tl" x="240"/></g><g id="n44-4"><use href="#wl" x="292"/></g><g id="n44-5"><use href="#wl" x="344"/></g><g id="n44-6"><use href="#wl" x="396"/></g><g id="n44-7"><use href="#tl" x="448"/></g><g id="n44-8"><use href="#tl" x="500"/></g><g id="n44-9"><use href="#tl" x="552"/></g><g id="n44-10"><use href="#bl" x="604"/></g></g>
<g id="row45" transform="translate(0,2350)"><g id="n45-0"><use href="#br" x="84"/></g><g id="n45-1"><use href="#tr" x="136"/></g><g id="n45-2"><use href="#tr" x="188"/></g><g id="n45-3"><use href="#tr" x="240"/></g><g id="n45-4"><use href="#wr" x="292"/></g><g id="n45-5"><use href="#wr" x="344"/></g><g id="n45-6"><use href="#wr" x="396"/></g><g id="n45-7"><use href="#tr" x="448"/></g><g id="n45-8"><use href="#tr" x="500"/></g><g id="n45-9"><use href="#tr" x="552"/></g><g id="n45-10"><use href="#br" x="604"/></g></g>
<g id="row46" transform="translate(0,2402)"><g id="n46-0"><use href="#bl" x="84"/></g><g id="n46-1"><use href="#tl" x="136"/></g><g id="n46-2"><use href="#tl" x="188"/></g><g id="n46-3"><use href="#tl" x="240"/></g><g id="n46-4"><use href="#wl" x="292"/></g><g id="n46-5"><use href="#wl" x="344"/></g><g id="n46-6"><use href="#wl" x="396"/></g><g id="n46-7"><use href="#tl" x="448"/></g><g id="n46-8"><use href="#tl" x="500"/></g><g id="n46-9"><use href="#tl" x="552"/></g><g id="n46-10"><use href="#bl" x="604"/></g></g>
<g id="row47" transform="translate(0,2454)"><g id="n47-0"><use href="#br" x="84"/></g><g id="n47-1"><use href="#tr" x="136"/></g><g id="n47-2"><use href="#tr" x="188"/></g><g id="n47-3"><use href="#wr" x="240"/></g><g id="n47-4"><use href="#wr" x="292"/></g><g id="n47-5"><use href="#wr" x="344"/></g><g id="n47-6"><use href="#wr" x="396"/></g><g id="n47-7"><use href="#wr" x="448"/></g><g id="n47-8"><use href="#tr" x="500"/></g><g id="n47-9"><use href="#tr" x="552"/></g><g id="n47-10"><use href="#br" x="604"/></g></g>
<g id="row48" transform="translate(0,2506)"><g id="n48-0"><use href="#bl" x="84"/></g><g id="n48-1"><use href="#tl" x="136"/></g><g id="n48-2"><use href="#wl" x="188"/></g><g id="n48-3"><use href="#wl" x="240"/></g><g id="n48-4"><use href="#wl" x="292"/></g><g id="n48-5"><use href="#wl" x="344"/></g><g id="n48-6"><use href="#wl" x="396"/></g><g id="n48-7"><use href="#wl" x="448"/></g><g id="n48-8"><use href="#wl" x="500"/></g><g id="n48-9"><use href="#tl" x="552"/></g><g id="n48-10"><use href="#bl" x="604"/></g></g>
<g id="row49" transform="translate(0,2558)"><g id="n49-0"><use href="#br" x="84"/></g><g id="n49-1"><use href="#tr" x="136"/></g><g id="n49-2"><use href="#wr" x="188"/></g><g id="n49-3"><use href="#wr" x="240"/></g><g id="n49-4"><use href="#wr" x="292"/></g><g id="n49-5"><use href="#wr" x="344"/></g><g id="n49-6"><use href="#wr" x="396"/></g><g id="n49-7"><use href="#wr" x="448"/></g><g id="n49-8"><use href="#wr" x="500"/></g><g id="n49-9"><use href="#tr" x="552"/></g><g id="n49-10"><use href="#br" x="604"/></g></g>
<g id="row50" transform="translate(0,2610)"><g id="n50-0"><use href="#bl" x="84"/></g><g id="n50-1"><use href="#tl" x="136"/></g><g id="n50-2"><use href="#tl" x="188"/></g><g id="n50-3"><use href="#wl" x="240"/></g><g id="n50-4"><use href="#wl" x="292"/></g><g id="n50-5"><use href="#tl" x="344"/></g><g id="n50-6"><use href="#wl" x="396"/></g><g id="n50-7"><use href="#wl" x="448"/></g><g id="n50-8"><use href="#tl" x="500"/></g><g id="n50-9"><use href="#tl" x="552"/></g><g id="n50-10"><use href="#bl" x="604"/></g></g>
<g id="row51" transform="translate(0,2662)"><g id="n51-0"><use href="#br" x="84"/></g><g id="n51-1"><use href="#tr" x="136"/></g><g id="n51-2"><use href="#tr" x="188"/></g><g id="n51-3"><use href="#tr" x="240"/></g><g id="n51-4"><use href="#tr" x="292"/></g><g id="n51-5"><use href="#tr" x="344"/></g><g id="n51-6"><use href="#tr" x="396"/></g><g id="n51-7"><use href="#tr" x="448"/></g><g id="n51-8"><use href="#tr" x="500"/></g><g id="n51-9"><use href="#tr" x="552"/></g><g id="n51-10"><use href="#br" x="604"/></g></g>
<g id="row52" transform="translate(0,2714)"><g id="n52-0"><use href="#bl" x="84"/></g><g id="n52-1"><use href="#tl" x="136"/></g><g id="n52-2"><use href="#tl" x="188"/></g><g id="n52-3"><use href="#tl" x="240"/></g><g id="n52-4"><use href="#tl" x="292"/></g><g id="n52-5"><use href="#tl" x="344"/></g><g id="n52-6"><use href="#tl" x="396"/></g><g id="n52-7"><use href="#tl" x="448"/></g><g id="n52-8"><use href="#tl" x="500"/></g><g id="n52-9"><use href="#tl" x="552"/></g><g id="n52-10"><use href="#bl" x="604"/></g></g>
<g id="row53" transform="translate(0,2766)"><g id="n53-0"><use href="#br" x="84"/></g><g id="n53-1"><use href="#tr" x="136"/></g><g id="n53-2"><use href="#tr" x="188"/></g><g id="n53-3"><use href="#tr" x="240"/></g><g id="n53-4"><use href="#tr" x="292"/></g><g id="n53-5"><use href="#wr" x="344"/></g><g id="n53-6"><use href="#tr" x="396"/></g><g id="n53-7"><use href="#wr" x="448"/></g><g id="n53-8"><use href="#tr" x="500"/></g><g id="n53-9"><use href="#tr" x="552"/></g><g id="n53-10"><use href="#br" x="604"/></g></g>
<g id="row54" transform="translate(0,2818)"><g id="n54-0"><use href="#bl" x="84"/></g><g id="n54-1"><use href="#tl" x="136"/></g><g id="n54-2"><use href="#tl" x="188"/></g><g id="n54-3"><use href="#tl" x="240"/></g><g id="n54-4"><use href="#wl" x="292"/></g><g id="n54-5"><use href="#wl" x="344"/></g><g id="n54-6"><use href="#tl" x="396"/></g><g id="n54-7"><use href="#tl" x="448"/></g><g id="n54-8"><use href="#tl" x="500"/></g><g id="n54-9"><use href="#tl" x="552"/></g><g id="n54-10"><use href="#bl" x="604"/></g></g>
<g id="row55" transform="translate(0,2870)"><g id="n55-0"><use href="#br" x="84"/></g><g id="n55-1"><use href="#tr" x="136"/></g><g id="n55-2"><use href="#tr" x="188"/></g><g id="n55-3"><use href="#tr" x="240"/></g><g id="n55-4"><use href="#tr" x="292"/></g><g id="n55-5"><use href="#tr" x="344"/></g><g id="n55-6"><use href="#tr" x="396"/></g><g id="n55-7"><use href="#wr" x="448"/></g><g id="n55-8"><use href="#tr" x="500"/></g><g id="n55-9"><use href="#tr" x="552"/></g><g id="n55-10"><use href="#br" x="604"/></g></g>
<g id="row56" transform="translate(0,2922)"><g id="n56-0"><use href="#bl" x="84"/></g><g id="n56-1"><use href="#tl" x="136"/></g><g id="n56-2"><use href="#tl" x="188"/></g><g id="n56-3"><use href="#tl" x="240"/></g><g id="n56-4"><use href="#wl" x="292"/></g><g id="n56-5"><use href="#tl" x="344"/></g><g id="n56-6"><use href="#wl" x="396"/></g><g id="n56-7"><use href="#tl" x="448"/></g><g id="n56-8"><use href="#tl" x="500"/></g><g id="n56-9"><use href="#tl" x="552"/></g><g id="n56-10"><use href="#bl" x="604"/></g></g>
<g id="row57" transform="translate(0,2974)"><g id="n57-0"><use href="#br" x="84"/></g><g id="n57-1"><use href="#tr" x="136"/></g><g id="n57-2"><use href="#tr" x="188"/></g><g id="n57-3"><use href="#tr" x="240"/></g><g id="n57-4"><use href="#tr" x="292"/></g><g id="n57-5"><use href="#tr" x="344"/></g><g id="n57-6"><use href="#tr" x="396"/></g><g id="n57-7"><use href="#tr" x="448"/></g><g id="n57-8"><use href="#tr" x="500"/></g><g id="n57-9"><use href="#tr" x="552"/></g><g id="n57-10"><use href="#br" x="604"/></g></g>
<g id="row58" transform="translate(0,3026)"><g id="n58-0"><use href="#bl" x="84"/></g><g id="n58-1"><use href="#tl" x="136"/></g><g id="n58-2"><use href="#tl" x="188"/></g><g id="n58-3"><use href="#tl" x="240"/></g><g id="n58-4"><use href="#tl" x="292"/></g><g id="n58-5"><use href="#tl" x="344"/></g><g id="n58-6"><use href="#tl" x="396"/></g><g id="n58-7"><use href="#tl" x="448"/></g><g id="n58-8"><use href="#tl" x="500"/></g><g id="n58-9"><use href="#tl" x="552"/></g><g id="n58-10"><use href="#bl" x="604"/></g></g>
</g>
<text x="344" y="1548" text-anchor="middle" font-family="Liberation Sans,Arial,sans-serif" font-weight="bold" font-size="14" fill="#3a3a3a">BRACELETBOOK.COM</text>
</svg>
